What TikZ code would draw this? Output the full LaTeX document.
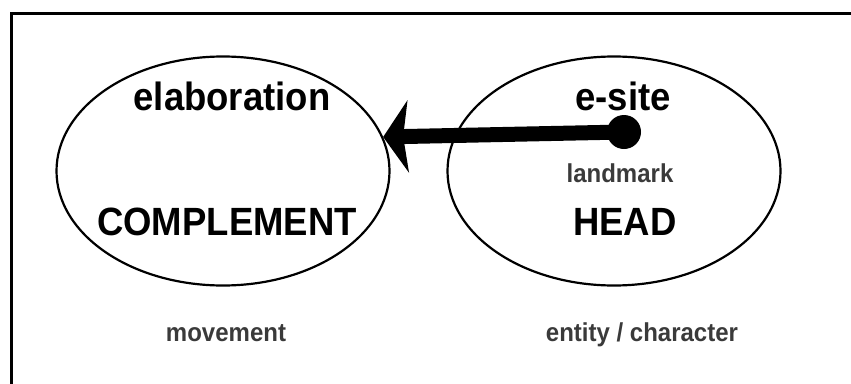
\documentclass[tikz,border=0pt]{standalone}
\usepackage{fontspec}
\setmainfont{Liberation Sans}
\usetikzlibrary{shapes.geometric,arrows.meta}
\definecolor{softink}{HTML}{3A3A3A}
% slightly tall lettering
\newcommand{\tallset}[1]{\scalebox{1}[1.08]{#1}}
\tikzset{
  role/.style={ellipse, draw, line width=2.2pt, minimum width=333pt, minimum height=229pt, inner sep=0pt},
  bigword/.style={anchor=base, font=\bfseries\fontsize{36.5}{40}\selectfont, inner sep=0pt},
  smallword/.style={anchor=base, font=\bfseries\fontsize{24}{28}\selectfont, text=softink, inner sep=0pt},
  site/.style={circle, fill, minimum size=34pt, inner sep=0pt}
}
\begin{document}
\begin{tikzpicture}[x=1pt, y=-1pt]
  \useasboundingbox (0,0) rectangle (851,383);
  \clip (0,0) rectangle (851,383);
  % open frame
  \draw[line width=3pt] (11.5,400) |- (870,13.5);
  % the two ellipses
  \node[role] (comp) at (223,171) {};
  \node[role] (head) at (614,171) {};
  % labels
  \node[bigword] (elab) at (232,110) {\tallset{elaboration}};
  \node[bigword] (complement) at (227,235) {\tallset{COMPLEMENT}};
  \node[bigword] (esite) at (623,110) {\tallset{e-site}};
  \node[smallword] (landmark) at (620,182) {\tallset{landmark}};
  \node[bigword] (headword) at (625,235) {\tallset{HEAD}};
  \node[smallword] (movement) at (226,341) {\tallset{movement}};
  \node[smallword] (entity) at (642,341) {\tallset{entity / character}};
  % elaboration arrow from the e-site
  \node[site] (dot) at (624,132) {};
  \draw[line width=15pt, -{Stealth[length=25pt, width=72pt, inset=5pt]}] (dot.center) -- (comp.12);
\end{tikzpicture}
\end{document}
